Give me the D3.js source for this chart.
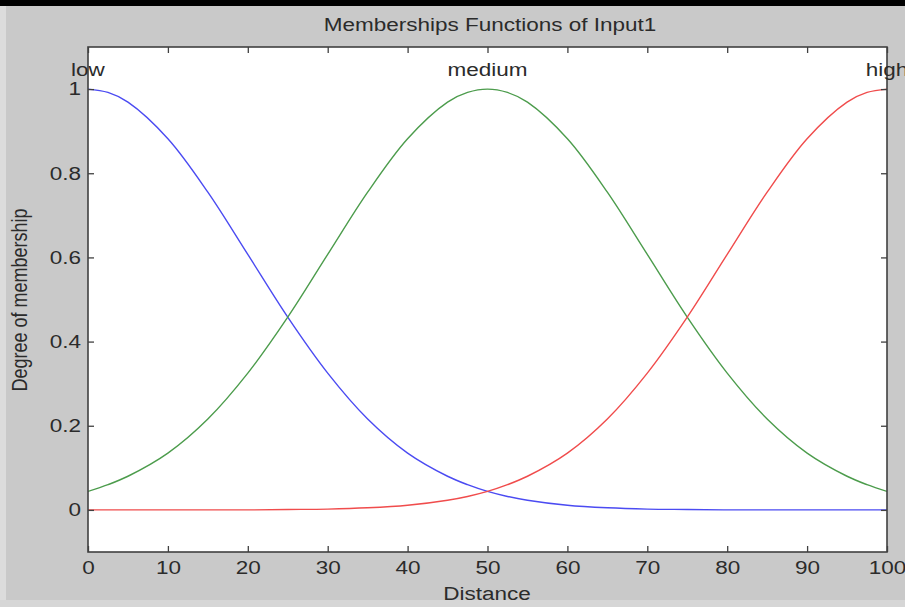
<!DOCTYPE html>
<html>
<head>
<meta charset="utf-8">
<script src="https://cdn.jsdelivr.net/npm/d3@7"></script>
<style>
  body { margin: 0; background: #c9c9c9; }
  svg { display: block; }
  text { font-family: "Liberation Sans", Arial, sans-serif; fill: #2b2b2b; }
</style>
</head>
<body>
<div id="chart"></div>
<script>
// values
var xValues      = [0, 2.5, 5, 10, 15, 20, 25, 30, 35, 40, 45, 47.5, 50, 52.5, 55, 60, 65, 70, 75, 80, 85, 90, 95, 97.5, 100];
var lowValues    = [1, 0.992, 0.969, 0.882, 0.755, 0.607, 0.458, 0.325, 0.216, 0.135, 0.080, 0.060, 0.044, 0.032, 0.023, 0.011, 0.005, 0.002, 0.001, 0, 0, 0, 0, 0, 0];
var mediumValues = [0.044, 0.060, 0.080, 0.135, 0.216, 0.325, 0.458, 0.607, 0.755, 0.882, 0.969, 0.992, 1, 0.992, 0.969, 0.882, 0.755, 0.607, 0.458, 0.325, 0.216, 0.135, 0.080, 0.060, 0.044];
var highValues   = [0, 0, 0, 0, 0, 0, 0.001, 0.002, 0.005, 0.011, 0.023, 0.032, 0.044, 0.060, 0.080, 0.135, 0.216, 0.325, 0.458, 0.607, 0.755, 0.882, 0.969, 0.992, 1];
var mfNames  = ["low", "medium", "high"];
var mfPeaks  = [0, 50, 100];
var mfColors = ["#4b4bf2", "#4c9c4c", "#f04c4c"];
var xTicks = [0, 10, 20, 30, 40, 50, 60, 70, 80, 90, 100];
var yTicks = [0, 0.2, 0.4, 0.6, 0.8, 1];

var W = 905, H = 607;
var sx = 1.25; // the picture is stretched sideways
var pLeft = 88, pRight = 887, pTop = 47, pBottom = 552;

var svg = d3.select("#chart").append("svg")
	.attr("width", W)
	.attr("height", H);

svg.append("rect").attr("width", W).attr("height", H).attr("fill", "#c9c9c9");
svg.append("rect").attr("width", 6).attr("height", H).attr("fill", "#dcdcdc");
svg.append("rect").attr("y", 600).attr("width", W).attr("height", 7).attr("fill", "#d6d6d6");
svg.append("rect").attr("width", W).attr("height", 6).attr("fill", "#000");

var x = d3.scaleLinear().domain([0, 100]).range([pLeft, pRight]);
var y = d3.scaleLinear().domain([-0.1, 1.1]).range([pBottom, pTop]);

svg.append("rect")
	.attr("x", pLeft).attr("y", pTop)
	.attr("width", pRight - pLeft).attr("height", pBottom - pTop)
	.attr("fill", "#fff");

svg.append("clipPath").attr("id", "clip")
	.append("rect")
	.attr("x", pLeft).attr("y", pTop)
	.attr("width", pRight - pLeft).attr("height", pBottom - pTop);

var series = [lowValues, mediumValues, highValues];
var line = d3.line()
	.x(function(d, i) { return x(xValues[i]); })
	.y(function(d) { return y(d); })
	.curve(d3.curveCatmullRom.alpha(0.5));

series.forEach(function(s, k) {
	svg.append("path")
		.datum(s)
		.attr("clip-path", "url(#clip)")
		.attr("fill", "none")
		.attr("stroke", mfColors[k])
		.attr("stroke-width", 1.4)
		.attr("d", line);
});

// axes, ticks pointing inwards
var xAxis = svg.append("g")
	.attr("transform", "translate(0," + pBottom + ")")
	.call(d3.axisBottom(x).tickValues(xTicks).tickSize(-6).tickSizeOuter(0).tickPadding(9));
svg.append("g")
	.attr("transform", "translate(0," + pTop + ")")
	.call(d3.axisTop(x).tickValues(xTicks).tickSize(-6).tickSizeOuter(0).tickFormat(""));
var yAxis = svg.append("g")
	.attr("transform", "translate(" + pLeft + ",0)")
	.call(d3.axisLeft(y).tickValues(yTicks).tickSize(-6).tickSizeOuter(0).tickFormat(d3.format("")));
svg.append("g")
	.attr("transform", "translate(" + pRight + ",0)")
	.call(d3.axisRight(y).tickValues(yTicks).tickSize(-6).tickSizeOuter(0).tickFormat(""));

svg.selectAll(".domain").remove();
svg.selectAll(".tick line").attr("stroke", "#404040").attr("stroke-width", 1.3);
svg.selectAll(".tick text").attr("font-size", 18).attr("font-family", null).attr("fill", "#2b2b2b");
xAxis.selectAll(".tick text").attr("transform", "scale(" + sx + ",1)");
yAxis.selectAll(".tick text")
	.attr("x", -7 / sx)
	.attr("transform", "scale(" + sx + ",1)");

svg.append("rect")
	.attr("x", pLeft).attr("y", pTop)
	.attr("width", pRight - pLeft).attr("height", pBottom - pTop)
	.attr("fill", "none")
	.attr("stroke", "#404040")
	.attr("stroke-width", 1.6);

function label(txt, px, py, size, rot) {
	svg.append("text")
		.attr("transform", "translate(" + px + "," + py + ") scale(" + sx + ",1)" + (rot ? " rotate(" + rot + ")" : ""))
		.attr("text-anchor", "middle")
		.attr("font-size", size)
		.text(txt);
}

mfNames.forEach(function(n, k) {
	label(n, x(mfPeaks[k]), y(1) - 13, 18);
});

label("Memberships Functions of Input1", 490, 31, 18);
label("Distance", 487, 600, 18);
label("Degree of membership", 27, 300, 18, -90);
</script>
</body>
</html>
